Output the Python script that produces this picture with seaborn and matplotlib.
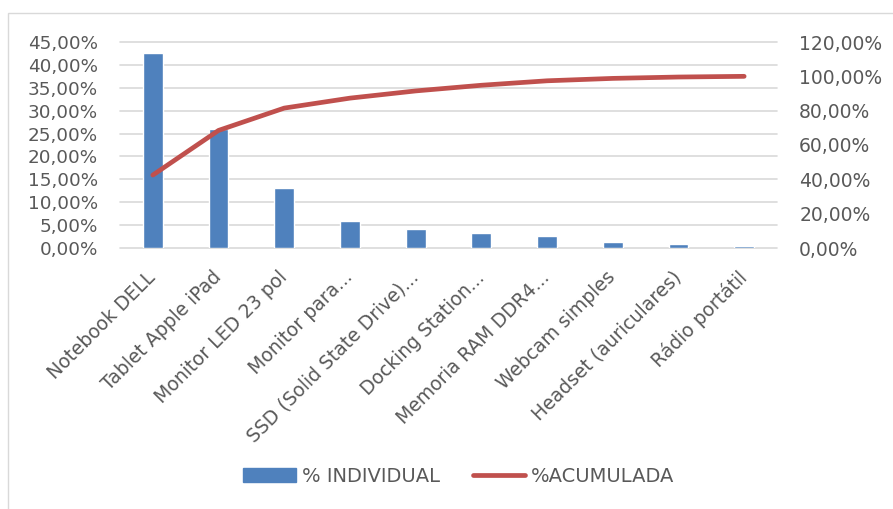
import numpy as np
import matplotlib
matplotlib.use("Agg")
import matplotlib.pyplot as plt
import seaborn as sns
from matplotlib.ticker import FuncFormatter
from matplotlib.patches import Rectangle, Patch
from matplotlib.lines import Line2D

# Pareto data (percentages)
items = ["Notebook DELL", "Tablet Apple iPad", "Monitor LED 23 pol", "Monitor para...",
         "SSD (Solid State Drive)...", "Docking Station...", "Memoria RAM DDR4...",
         "Webcam simples", "Headset (auriculares)", "Rádio portátil"]
individual = [42.5, 26.0, 13.0, 5.8, 4.2, 3.3, 2.6, 1.4, 0.8, 0.4]
acumulada = [42.5, 68.5, 81.5, 87.3, 91.5, 94.8, 97.4, 98.8, 99.6, 100.0]

sns.set_style("white")
plt.rcParams['font.family'] = ['DejaVu Sans']

blue = "#4F81BD"
red = "#C0504D"
grey_txt = "#595959"

pct = FuncFormatter(lambda v, p: f"{v:.2f}%".replace(".", ","))

fig = plt.figure(figsize=(8.93, 5.09), dpi=100)
ax = fig.add_axes([120 / 893, 1 - 248 / 509, 657 / 893, 206 / 509])

sns.barplot(x=items, y=individual, color=blue, width=0.3, saturation=1, ax=ax)
ax.set_ylim(0, 45)
ax.set_yticks(np.arange(0, 46, 5))
ax.yaxis.set_major_formatter(pct)
ax.grid(axis="y", color="#D9D9D9", linewidth=1.2)
for gl in ax.get_ygridlines():
    gl.set_clip_on(False)
ax.set_axisbelow(True)
for s in ax.spines.values():
    s.set_visible(False)
ax.tick_params(axis="y", length=0, colors=grey_txt, labelsize=13.2, pad=16)
ax.tick_params(axis="x", length=0, colors=grey_txt, labelsize=13.5, pad=19)
ax.set_xlim(-0.5, len(items) - 0.5)
plt.setp(ax.get_xticklabels(), rotation=45, ha="right", va="center", rotation_mode="anchor")

ax2 = ax.twinx()
sns.lineplot(x=np.arange(len(items)), y=acumulada, color=red, linewidth=3.4,
             solid_capstyle="round", ax=ax2)
ax2.set_ylim(0, 120)
ax2.set_yticks(np.arange(0, 121, 20))
ax2.yaxis.set_major_formatter(pct)
for s in ax2.spines.values():
    s.set_visible(False)
ax2.tick_params(axis="y", length=0, colors=grey_txt, labelsize=13.5, pad=16)
ax.set_xlabel("")
ax.set_ylabel("")
ax2.set_ylabel("")

handles = [Patch(color=blue, label="% INDIVIDUAL"),
           Line2D([0], [0], color=red, linewidth=3.4, solid_capstyle="round", label="%ACUMULADA")]
fig.legend(handles=handles, loc="center", bbox_to_anchor=(459 / 893, 1 - 476 / 509),
           ncol=2, frameon=False, fontsize=14, labelcolor=grey_txt,
           handlelength=2.7, handletextpad=0.3, columnspacing=1.7)

fig.patches.append(Rectangle((8 / 893, -0.05), 1.0, 1 - 13 / 509 + 0.05,
                             transform=fig.transFigure, fill=False,
                             edgecolor="#D9D9D9", linewidth=1))

fig.savefig("out.png", dpi=100)
